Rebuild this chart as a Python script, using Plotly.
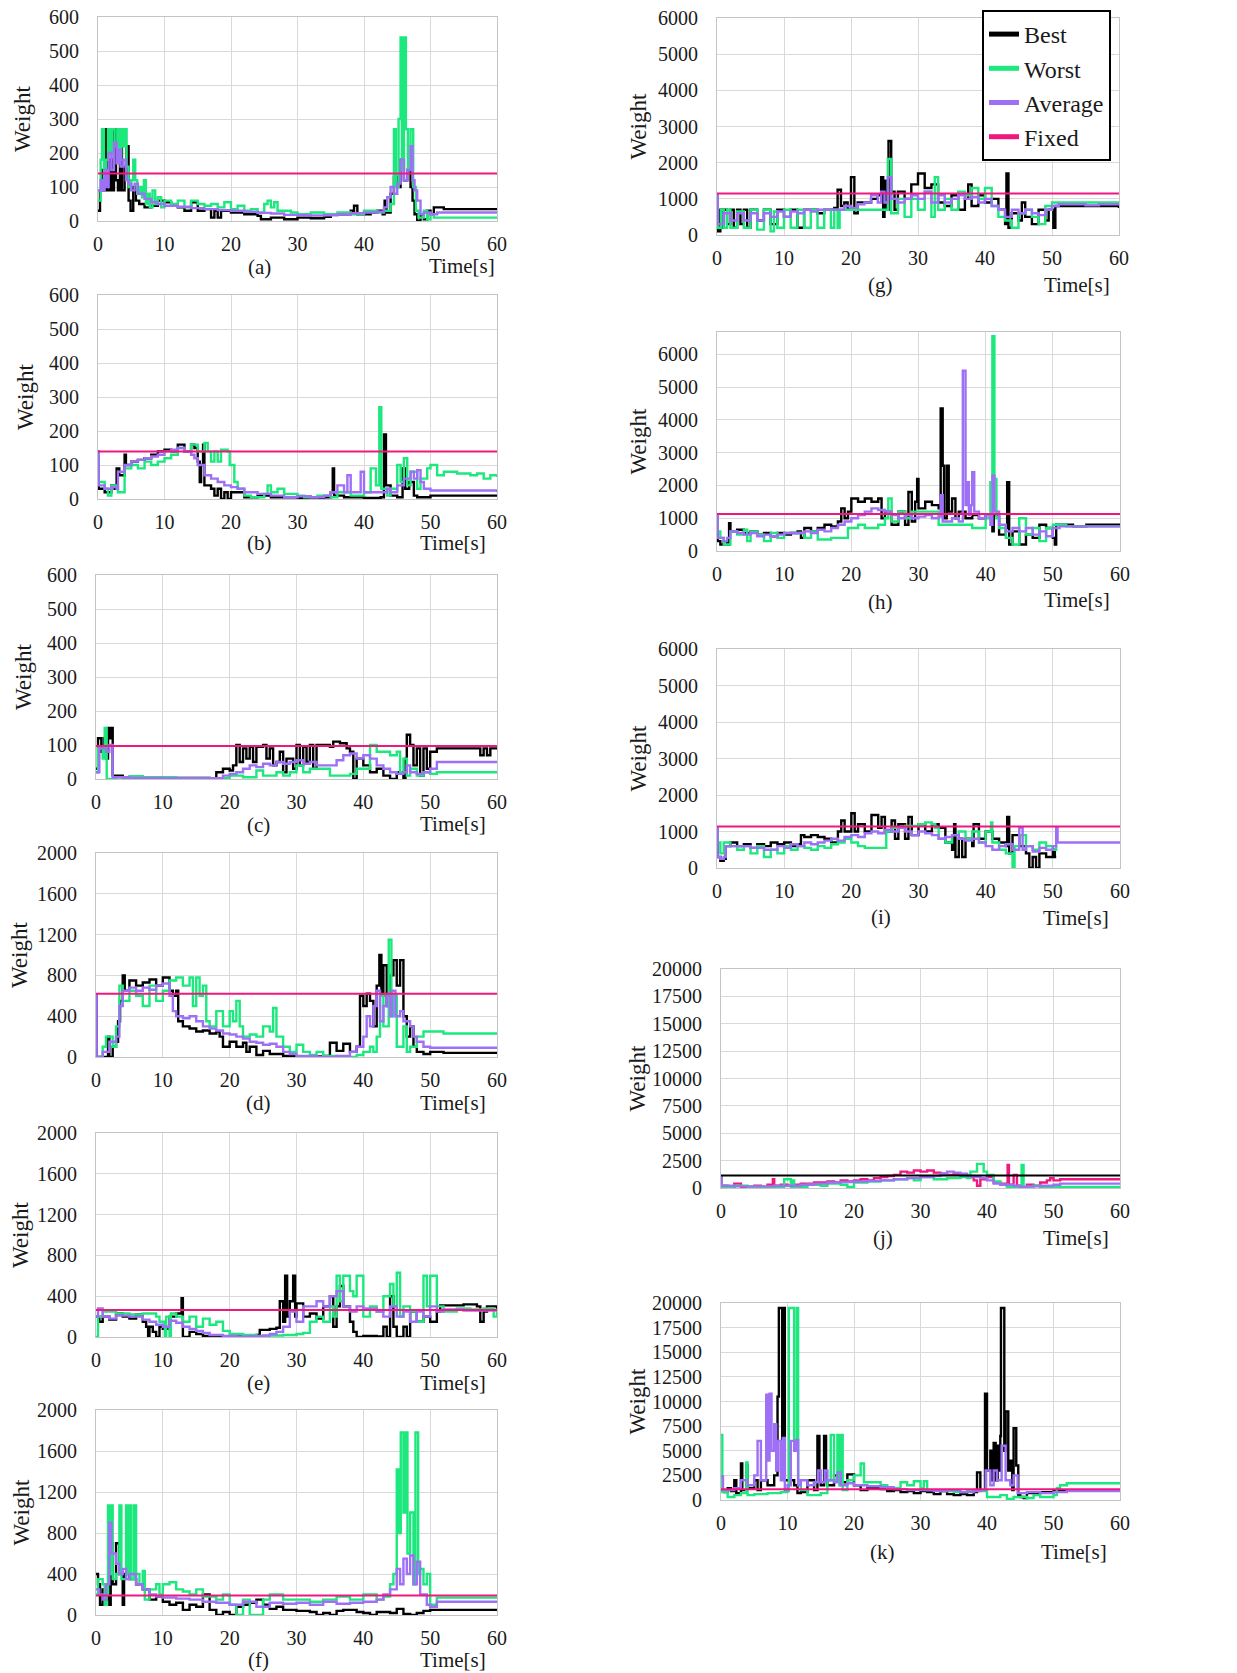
import plotly.graph_objects as go

W, H = 1237, 1673
PAGE_OFFSET = 0  # body margin removed by the post script below
FONT = "Liberation Serif"

X_TICKS = [0, 10, 20, 30, 40, 50, 60]
PANEL_LABELS = ["(a)", "(b)", "(c)", "(d)", "(e)", "(f)", "(g)", "(h)", "(i)", "(j)", "(k)"]
SERIES_NAMES = ["Best", "Worst", "Average", "Fixed"]
FIXED_WEIGHT = [140, 140, 97, 620, 265, 190, 1150, 1130, 1140, 1150, 1100]
Y_TICKS_600 = [0, 100, 200, 300, 400, 500, 600]
Y_TICKS_2000 = [0, 400, 800, 1200, 1600, 2000]
Y_TICKS_6000 = [0, 1000, 2000, 3000, 4000, 5000, 6000]
Y_TICKS_20000 = [0, 2500, 5000, 7500, 10000, 12500, 15000, 17500, 20000]

# ---------------- (a) ----------------
A_BEST = [(0,30),(0.3,90),(0.6,150),(0.9,90),(1.2,270),(1.4,90),(1.8,180),(2.1,90),(2.4,270),(2.7,120),(3.0,90),(3.3,260),(3.6,90),(4.0,160),(4.3,220),(4.6,60),(4.9,30),(5.3,100),(5.7,60),(6.2,50),(7,40),(8,45),(9,60),(10,55),(11,45),(12,40),(13,30),(14,55),(15,30),(16,35),(17,10),(17.5,30),(18,10),(18.5,30),(20,25),(22,20),(24,15),(24.5,5),(26,10),(28,5),(30,10),(32,8),(34,12),(35,20),(37,20),(38,30),(38.5,45),(39,20),(41,25),(42,30),(42.8,20),(43.1,60),(43.4,25),(44,80),(44.5,130),(45,100),(45.5,180),(46,120),(46.5,150),(47,100),(47.3,60),(47.6,20),(48,0),(48.5,20),(49,5),(49.5,30),(50,20),(50.5,40),(52,35),(60,35)]
A_WORST = [(0,60),(0.4,180),(0.6,270),(0.9,120),(1.2,180),(1.5,270),(1.8,200),(2.1,270),(2.5,220),(2.9,270),(3.2,180),(3.5,270),(3.8,220),(4.0,270),(4.3,160),(4.6,100),(5,120),(5.3,180),(5.6,120),(5.9,80),(6.3,100),(6.6,70),(6.9,120),(7.2,50),(7.5,80),(7.8,40),(8.2,90),(8.6,50),(9,70),(9.5,40),(10,60),(11,50),(12,60),(13,40),(14,60),(15,50),(16,45),(17,50),(18,40),(19,55),(20,35),(21,45),(22,30),(23,35),(24,25),(25,50),(25.5,60),(26,40),(26.5,55),(27,30),(28,30),(29,25),(30,20),(32,25),(34,20),(36,25),(38,20),(40,30),(42,25),(43,30),(44,50),(44.5,270),(44.8,100),(45.2,300),(45.5,540),(45.7,150),(46.0,540),(46.3,270),(46.6,150),(47,270),(47.4,100),(47.8,30),(48.2,10),(49,30),(49.5,5),(50,20),(50.5,10),(60,10)]
A_AVG = [(0,90),(0.4,120),(0.7,90),(1,150),(1.3,100),(1.6,200),(2,150),(2.4,230),(2.8,170),(3.1,210),(3.4,160),(3.8,180),(4.2,120),(4.6,110),(5,90),(5.5,110),(6,80),(7,65),(8,55),(9,50),(10,45),(12,42),(14,38),(16,35),(18,32),(20,30),(22,27),(24,24),(26,22),(28,18),(30,17),(32,16),(34,17),(36,20),(38,23),(40,25),(42,27),(43,40),(43.5,70),(44,100),(44.5,80),(45,110),(45.5,180),(46,120),(46.5,150),(47,220),(47.3,120),(47.6,90),(48,60),(48.5,20),(49,25),(50,20),(51,25),(60,25)]

# ---------------- (b) ----------------
B_BEST = [(0,140),(0.1,30),(1,20),(2,40),(2.5,30),(2.8,90),(3.2,70),(4,130),(4.2,100),(5,110),(6,115),(7,120),(8,130),(9,140),(10,145),(11,140),(12,160),(13,140),(14,160),(14.5,150),(15,110),(15.3,50),(15.5,100),(15.8,160),(16,40),(17,30),(17.5,10),(18,30),(18.5,0),(19,20),(19.5,0),(20,20),(22,5),(24,10),(26,5),(30,3),(34,5),(35,20),(35.3,90),(35.5,10),(37,5),(40,3),(42.5,5),(43,190),(43.3,40),(44,10),(45,5),(45.8,90),(46.2,30),(46.8,50),(47.5,10),(48,5),(50,10),(60,10)]
B_WORST = [(0,140),(0.1,50),(1,30),(1.5,10),(2,40),(3,20),(3.5,20),(4,90),(5,100),(6,90),(7,110),(8,100),(9,110),(10,120),(11,130),(12,150),(13,140),(14,160),(15,140),(16,165),(16.5,140),(17,110),(17.5,140),(18,110),(18.5,145),(19.5,140),(19.8,100),(20.5,50),(21,30),(22,10),(23,5),(25,15),(25.5,40),(26,20),(27,30),(28,15),(30,10),(31,5),(33,10),(35,5),(36,20),(38,10),(40,20),(41,90),(41.8,40),(42.3,270),(42.6,30),(43.5,10),(44,30),(45,100),(45.5,50),(46,120),(46.5,40),(47,80),(48,30),(48.5,60),(49.5,90),(50,100),(51,70),(52,80),(54,75),(56,70),(57,75),(58,60),(59,70),(60,65)]
B_AVG = [(0,140),(0.1,40),(1,30),(2,35),(2.8,30),(3,80),(4,100),(5,110),(6,115),(7,120),(8,125),(9,130),(10,140),(11,145),(12,150),(13,140),(14,130),(14.5,120),(15,100),(16,70),(17,60),(18,50),(19,40),(20,35),(21,30),(22,20),(24,15),(26,10),(28,5),(30,8),(32,5),(34,10),(35,20),(36,40),(37,20),(37.5,70),(38,20),(39.5,80),(40,20),(42,20),(43.5,30),(44,20),(45,40),(46,60),(47,80),(47.5,60),(48,85),(48.5,50),(49,30),(50,25),(55,25),(60,20)]

# ---------------- (c) ----------------
C_BEST = [(0,30),(0.3,120),(0.8,80),(1.2,120),(1.5,60),(1.8,150),(2.1,120),(2.3,150),(2.5,10),(4,5),(10,3),(17,2),(18,20),(19,30),(20,25),(20.5,40),(21,100),(21.5,50),(22,90),(22.5,60),(23,95),(23.5,50),(24,95),(25,100),(25.5,60),(26,90),(26.5,40),(27,50),(27.5,80),(28,20),(28.5,60),(29.5,30),(30,100),(30.5,40),(31,95),(31.5,50),(32,100),(32.5,30),(33,100),(35,95),(35.5,110),(36.5,105),(37.5,90),(38,80),(38.5,0),(39,60),(40,40),(41,20),(42,30),(43,10),(44,0),(45,20),(46,0),(46.3,60),(46.5,130),(47,100),(47.5,40),(48,90),(48.5,10),(49,90),(49.5,30),(50,80),(51,90),(57,90),(57.5,70),(58,90),(58.5,70),(59,90),(60,90)]
C_WORST = [(0,20),(0.3,90),(1,60),(1.3,150),(1.6,0),(3,5),(5,8),(7,5),(10,5),(12,3),(17,2),(20,10),(22,5),(24,25),(25,10),(27,20),(28,10),(29,20),(30,40),(31,20),(32,30),(35,10),(38,15),(39,30),(41,100),(42,80),(44,70),(45,80),(45.5,20),(46,60),(46.5,10),(47,30),(48,10),(49,20),(50,15),(51,20),(60,20)]
C_AVG = [(0,20),(0.5,90),(1.5,80),(2,100),(2.5,5),(5,3),(10,2),(17,2),(19,10),(20,15),(21,20),(22,30),(23,40),(24,35),(25,45),(26,40),(27,50),(28,45),(29,50),(30,55),(31,45),(32,50),(33,40),(35,40),(36,55),(37,70),(38,75),(39,60),(40,70),(41,60),(42,40),(43,30),(44,20),(45,15),(46,20),(46.5,40),(47,20),(48,15),(49,20),(50,30),(51,50),(60,50)]

# ---------------- (d) ----------------
D_BEST = [(0,600),(0.1,0),(1.5,0),(1.8,200),(2,0),(2.5,100),(3,150),(3.3,350),(3.6,550),(4,800),(4.3,650),(5,750),(6,700),(7,730),(8,760),(9,700),(10,780),(11,650),(11.5,600),(12,650),(12.3,350),(13,300),(14,280),(15,250),(16,260),(17,230),(18,250),(18.5,200),(19,100),(20,150),(21,100),(22,140),(22.5,50),(23,100),(24,20),(25,60),(26,30),(28,10),(30,0),(33,5),(34,10),(35,140),(36,60),(37,130),(38,50),(39,100),(39.5,600),(40,500),(40.5,620),(41,550),(41.5,300),(42,700),(42.4,1000),(42.7,600),(43,900),(43.5,500),(44,800),(44.5,950),(45,700),(45.5,950),(46,400),(46.5,200),(47,300),(47.5,100),(48,50),(49,30),(50,50),(52,40),(60,40)]
D_WORST = [(0,0),(1,100),(1.5,200),(2.5,100),(3,300),(3.5,700),(4,550),(5,650),(6,600),(7,500),(8,700),(9,550),(10,650),(11,750),(12,780),(13,700),(14,780),(14.5,500),(15,780),(15.5,600),(16,700),(16.5,350),(17,300),(18,450),(19,300),(20,450),(20.5,350),(21,550),(21.5,300),(22,200),(23,220),(24,200),(25,300),(26,250),(26.5,480),(27,200),(28,100),(29,50),(30,120),(31,50),(32,20),(33,50),(34,10),(36,0),(38,0),(39,20),(40,50),(41,100),(41.5,50),(42,200),(42.5,600),(43,300),(43.8,1150),(44.2,400),(44.5,600),(45,100),(46,300),(46.5,50),(47,100),(48,200),(49,250),(52,230),(60,230)]
D_AVG = [(0,600),(0.1,0),(1,50),(2,150),(3,200),(3.5,500),(4,650),(5,680),(6,650),(7,680),(8,660),(9,700),(10,720),(11,600),(11.5,450),(12,400),(13,380),(14,400),(15,350),(16,300),(17,280),(18,260),(19,230),(20,220),(21,200),(22,180),(23,150),(24,140),(25,120),(26,130),(27,100),(28,50),(29,30),(30,10),(33,0),(36,10),(38,50),(39,100),(40,200),(40.5,400),(41,300),(41.5,500),(42,650),(42.5,350),(43,500),(43.5,600),(44,400),(44.3,650),(44.8,400),(45.5,450),(46,350),(47,300),(47.5,200),(48,150),(49,100),(50,90),(60,90)]

# ---------------- (e) ----------------
E_BEST = [(0,200),(0.5,150),(1,200),(2,170),(3,230),(4,200),(5,180),(6,220),(7,150),(7.5,100),(7.8,0),(8,100),(8.5,50),(9,0),(9.5,100),(10,80),(11,200),(12,230),(12.8,380),(13,0),(14,50),(15,30),(16,10),(18,5),(20,10),(22,10),(24,20),(24.5,70),(26,80),(27,90),(27.5,350),(28,150),(28.3,600),(28.6,200),(29,350),(29.5,600),(29.8,200),(30,330),(31,200),(32,230),(33,180),(34,300),(35,400),(35.5,100),(36,300),(36.5,500),(37,300),(38,150),(38.5,50),(39,0),(40,10),(42,5),(43,100),(43.5,0),(44,400),(44.5,100),(45,0),(46,100),(46.5,0),(47,250),(48,150),(49,200),(50,150),(51,250),(51.5,310),(55,320),(57,300),(57.5,150),(58,250),(58.5,300),(60,270)]
E_WORST = [(0,0),(0.3,200),(1,250),(3,230),(5,220),(7,230),(9,200),(9.5,150),(10.3,0),(10.5,200),(11,0),(11.2,230),(12,200),(13,150),(14,200),(15,100),(16,180),(17,120),(18,150),(19,60),(20,30),(22,20),(24,10),(26,15),(28,20),(30,30),(31,40),(32,150),(33,200),(34,150),(35,300),(35.5,200),(36,600),(36.5,350),(37,600),(38,450),(38.5,400),(39,600),(40,200),(41,300),(42,250),(43,400),(44,520),(44.5,300),(45,630),(45.5,200),(46,300),(47,250),(48,150),(49,600),(49.5,300),(50,600),(51,300),(52,250),(54,280),(56,270),(58,280),(59.5,200),(60,280)]
E_AVG = [(0,200),(0.3,280),(1,200),(2,180),(3,210),(5,200),(7,170),(8,150),(9,120),(10,100),(11,160),(12,140),(13,100),(14,80),(15,60),(16,40),(17,20),(19,10),(21,5),(23,8),(25,15),(26,30),(27,50),(28,100),(29,250),(30,150),(31,300),(33,350),(34,300),(35,400),(36,450),(37,300),(38,250),(39,300),(40,280),(42,250),(43,200),(44,300),(45,200),(46,250),(47,150),(48,250),(49,200),(50,300),(51,250),(52,270),(55,260),(60,270)]

# ---------------- (f) ----------------
F_BEST = [(0,400),(0.3,300),(0.6,100),(1,250),(1.5,150),(1.8,300),(2.0,100),(2.2,700),(2.5,300),(3,700),(3.5,400),(4,100),(4.2,400),(5,350),(6,300),(7,250),(8,150),(9,180),(10,130),(11,100),(12,120),(13,50),(14,100),(15,80),(16,200),(17,50),(18,0),(19,30),(20,0),(21,80),(22,100),(23,120),(24,150),(25,100),(26,60),(27,80),(28,50),(30,40),(32,30),(33,0),(34,20),(35,0),(36,40),(37,50),(39,30),(40,20),(41,0),(42,30),(44,20),(45,60),(46,10),(47,0),(48,20),(49,40),(50,50),(60,50)]
F_WORST = [(0,200),(0.3,350),(1,300),(1.3,100),(1.6,200),(1.8,1070),(2.0,400),(2.2,1070),(2.5,350),(3,400),(3.5,1070),(3.8,350),(4.5,1070),(4.8,400),(5,1070),(5.3,350),(5.7,1070),(6,400),(6.5,300),(7,430),(7.3,150),(8,250),(9,300),(9.5,200),(10,300),(11,320),(12,250),(13,230),(14,200),(15,250),(16,180),(18,150),(19,200),(20,100),(21,0),(22,150),(23,0),(24.5,0),(25,150),(26,200),(28,150),(30,150),(32,130),(34,150),(36,180),(38,150),(40,200),(42,150),(43,180),(44,300),(44.5,400),(45,1420),(45.3,800),(45.6,1780),(46,1000),(46.3,1780),(46.6,600),(47,1000),(47.5,300),(47.8,1780),(48.2,400),(48.5,450),(49,300),(49.5,400),(50,100),(51,170),(60,170)]
F_AVG = [(0,250),(0.5,200),(1,150),(1.5,300),(2,900),(2.3,600),(3,500),(3.5,400),(4,450),(4.5,350),(5,400),(6,300),(7,250),(8,200),(9,180),(10,170),(12,160),(14,150),(16,130),(18,120),(20,100),(22,130),(24,80),(26,120),(28,110),(30,120),(32,100),(34,130),(36,110),(38,120),(40,130),(42,150),(43,200),(44,250),(45,450),(45.5,300),(46,550),(46.5,400),(47,580),(47.5,300),(48,520),(48.5,200),(49.5,100),(50,80),(51,130),(60,130)]

# ---------------- (g) ----------------
G_BEST = [(0,1100),(0.1,100),(0.5,700),(0.8,200),(1,700),(1.5,300),(2,700),(2.5,200),(3,700),(3.5,300),(4,700),(4.5,200),(5,700),(6,400),(7,700),(8,300),(9,700),(10,500),(11,700),(12,200),(13,700),(15,600),(16,700),(17,700),(17.5,750),(18,1250),(18.5,800),(19,900),(19.5,700),(20,1600),(20.5,600),(21,900),(22,900),(23,1000),(24,1100),(24.5,1600),(24.8,500),(25,1500),(25.3,700),(25.6,2600),(26,1200),(26.5,700),(27,1200),(28,1000),(29,1400),(30,1700),(31,1300),(32,1400),(33,900),(34,800),(35,1100),(36,700),(37,1000),(37.5,1400),(38,800),(39,1100),(40,900),(41,1000),(42,700),(43,300),(43.2,1700),(43.5,200),(44,600),(45,400),(45.5,900),(46,500),(47,300),(48,700),(49,400),(49.5,700),(50.2,200),(50.5,800),(51,800),(60,750)]
G_WORST = [(0,1100),(0.1,200),(0.6,700),(1,200),(1.5,700),(2,200),(3,650),(4,200),(5,700),(6,150),(7,700),(8,100),(8.5,650),(9,200),(10,700),(11,200),(12,700),(13,200),(14,700),(15,200),(16,700),(17,200),(17.5,700),(18,200),(18.3,700),(25,700),(25.5,2100),(26,600),(27,1000),(28,500),(29,1000),(30,700),(31,1200),(32,500),(32.5,1600),(33,700),(34,1000),(35,700),(36,1200),(37,1100),(38,1300),(39,1000),(40,1300),(41,800),(42,500),(43,400),(44,200),(45,600),(46,700),(47,500),(48,300),(49,800),(50,900),(52,900),(60,900)]
G_AVG = [(0,1100),(0.1,300),(1,600),(2,400),(3,600),(4,400),(5,600),(6,400),(7,600),(8,500),(9,650),(10,500),(11,650),(12,600),(13,700),(14,650),(15,700),(18,700),(19,800),(20,750),(21,850),(22,900),(23,1100),(24,900),(24.5,1200),(25,900),(25.5,1600),(26,1000),(27,900),(28,1000),(29,1100),(30,1000),(31,1200),(32,900),(33,1100),(34,900),(35,1000),(36,1100),(37,1000),(38,1050),(39,900),(40,1000),(41,800),(42,700),(43,500),(44,700),(45,600),(46,700),(47,600),(48,550),(49,700),(50,800),(51,850),(55,820),(57,850),(60,820)]

# ---------------- (h) ----------------
H_BEST = [(0,1100),(0.1,300),(0.5,200),(1,300),(1.5,200),(1.8,850),(2,600),(3,650),(4,550),(5,600),(6,500),(7,550),(8,450),(9,550),(10,500),(11,550),(12,600),(12.5,400),(13,700),(14,600),(15,700),(16,800),(17,750),(18,900),(18.5,1300),(19,1000),(19.5,1200),(20,1600),(21,1500),(22,1600),(23,1500),(24,1600),(24.5,1000),(25,1200),(26,800),(27,1200),(28,800),(28.5,1800),(29,900),(29.5,1500),(29.8,2200),(30,1300),(31,1500),(32,1400),(33,1300),(33.3,4350),(33.6,2600),(33.8,1000),(34.2,2600),(34.5,1200),(35,1600),(35.5,1000),(36,1200),(37,1000),(38,1100),(39,1000),(40,1100),(41,600),(41.2,1100),(42,500),(43,700),(43.2,2100),(43.5,200),(44,600),(45,200),(46,500),(47,400),(48,800),(49,700),(50,400),(50.3,200),(50.5,800),(53,750),(55,800),(60,800)]
H_WORST = [(0,1100),(0.1,600),(0.5,400),(1,200),(2,600),(3,500),(4,650),(4.5,300),(5,600),(6,500),(7,300),(8,550),(9,400),(10,550),(12,550),(13,400),(14,600),(15,350),(17,400),(19,400),(19.5,700),(20.5,700),(21,800),(22,700),(24,800),(25,1000),(25.5,1600),(26,900),(27,1200),(28,1000),(29,1200),(32,1200),(33,800),(36,800),(38,700),(40,1000),(40.7,2100),(41,6550),(41.3,2200),(41.6,1000),(42,700),(43,400),(44,200),(45,1000),(46,500),(47,700),(48,300),(49,700),(50,800),(52,750),(60,750)]
H_AVG = [(0,1100),(0.1,400),(1,300),(1.5,400),(2,600),(3,550),(4,500),(5,550),(6,450),(7,500),(8,450),(9,500),(10,550),(12,550),(13,600),(14,550),(15,650),(16,600),(17,700),(18,800),(19,900),(20,1000),(21,1100),(22,1200),(23,1300),(24,1250),(25,1200),(26,1100),(27,1000),(28,1100),(29,1000),(30,1050),(31,1100),(32,1000),(33,1050),(33.3,1700),(33.6,900),(35,1000),(36,900),(36.6,5500),(37,1400),(37.2,2100),(37.5,1100),(37.8,1400),(38,2400),(38.3,1200),(39,1000),(40,1100),(40.7,800),(41,2300),(41.3,1200),(42,800),(43,600),(44,700),(45,600),(46,700),(47,500),(48,600),(49,450),(50,700),(51,750),(60,750)]

# ---------------- (i) ----------------
I_BEST = [(0,1100),(0.1,300),(0.5,200),(1,250),(1.3,600),(2,700),(3,600),(4,650),(5,550),(6,650),(7,600),(8,700),(9,650),(10,700),(11,600),(12,650),(12.5,900),(13,850),(14,900),(15,850),(16,800),(17,700),(18,1000),(18.5,1300),(19,1000),(20,1500),(20.5,1000),(21,1200),(22,1000),(23,1450),(24,1100),(24.5,1400),(25,1000),(26,1300),(26.5,800),(27,1200),(28,800),(28.5,1400),(29,900),(30,1200),(31,1000),(32,1200),(33,1100),(34,700),(35,500),(35.3,1200),(35.5,300),(36,800),(36.5,300),(37,800),(38,600),(38.2,1200),(39,800),(40,1000),(41,800),(42,700),(43,600),(43.2,1400),(43.5,400),(44,900),(45,600),(46,400),(46.5,0),(47,300),(47.5,0),(48,400),(49,300),(50,500),(50.3,300),(50.5,300)]
I_WORST = [(0,1100),(0.1,700),(0.5,400),(1,700),(2,600),(3,500),(4,600),(5,400),(6,600),(7,300),(8,500),(9,400),(10,600),(11,500),(12,600),(13,550),(14,500),(15,600),(16,550),(17,650),(18,700),(19,800),(20,700),(21,600),(22,550),(25,550),(25.2,1000),(26,1100),(28,1150),(30,1200),(31,1250),(32,1200),(32.5,1100),(33,800),(34,700),(35,900),(36,1000),(37,800),(38,1000),(39,700),(40,1000),(40.8,1250),(41,700),(42,500),(43,400),(44,0),(44.3,600),(45,900),(46,600),(47,500),(48,700),(49,600),(50,500),(50.5,600)]
I_AVG = [(0,1100),(0.1,300),(0.5,250),(1,300),(1.3,600),(3,600),(5,550),(7,500),(9,600),(10,550),(11,650),(12,600),(13,700),(14,650),(15,700),(16,750),(17,800),(18,750),(19,850),(20,900),(21,850),(22,950),(23,1000),(24,950),(25,1050),(26,1000),(27,1100),(28,1000),(29,900),(30,1000),(31,950),(32,900),(33,800),(34,850),(35,900),(36,800),(37,750),(38,800),(39,700),(40,600),(41,500),(42,600),(43,650),(44,500),(45,1100),(45.5,500),(46,600),(47,450),(48,550),(49,500),(50,600),(50.5,1100),(50.7,700),(60,700)]

# ---------------- (j) ----------------
J_BEST = [(0,1000),(0.1,200),(1,100),(2,400),(3,100),(5,200),(6,100),(7,300),(7.8,800),(8,200),(9,300),(10,200),(11,300),(12,400),(14,500),(16,600),(17,500),(18,700),(19,600),(20,700),(21,800),(22,700),(23,900),(24,1000),(25,1100),(26,1200),(27,1500),(28,1400),(29,1600),(30,1500),(31,1600),(32,1400),(33,1300),(34,1200),(35,1300),(36,1200),(37,1000),(38,700),(38.5,200),(39,800),(40,1000),(41,500),(42,400),(43,200),(43.1,2100),(43.3,300),(44,1200),(44.5,200),(45,100),(46,300),(47,200),(48,500),(49,700),(49.5,900),(50,700),(51,800),(60,800)]
J_WORST = [(0,1000),(0.1,100),(2,200),(4,100),(9,100),(9.5,800),(10.5,100),(10.8,700),(11,100),(13,300),(15,200),(16,400),(18,300),(19,100),(20,500),(22,600),(24,700),(26,800),(28,900),(29,700),(30,1000),(32,800),(34,900),(36,1000),(37,900),(37.5,1500),(38.5,2200),(39.5,1500),(40,1200),(41,600),(42,300),(43,100),(44,50),(45,100),(45.2,2100),(45.5,100),(47,200),(48,100),(60,100)]
J_AVG = [(0,1000),(0.1,200),(2,150),(5,150),(8,200),(10,200),(12,300),(14,400),(16,500),(18,550),(20,600),(22,650),(24,700),(26,800),(28,900),(30,1000),(32,1100),(33,1300),(34,1500),(35,1400),(36,1300),(37,1100),(38,1000),(39,900),(40,700),(41,400),(42,300),(44,200),(45,100),(46,150),(48,200),(50,300),(51,400),(60,400)]

# ---------------- (k) ----------------
K_BEST = [(0,1000),(0.5,800),(1,1200),(1.5,900),(2,2000),(2.3,700),(3,3700),(3.2,1000),(3.8,3500),(4,1200),(5,2000),(5.5,1000),(6,2000),(7,1500),(8,2500),(8.5,10500),(8.7,19500),(9.2,6200),(9.4,19500),(9.6,2000),(10,2000),(11,1500),(11.5,700),(12,800),(13,2000),(14,1000),(14.5,6500),(14.8,2000),(15,1500),(15.5,6500),(15.8,2000),(16,1500),(17,2500),(18,1800),(19,2600),(20,1500),(21,1000),(22,1200),(24,1100),(25,900),(26,1000),(27,800),(28,900),(29,700),(30,900),(31,800),(32,600),(33,900),(34,600),(35,500),(36,600),(37,500),(38,800),(38.5,2800),(39,1000),(39.7,10800),(40,3000),(40.5,5000),(40.8,2000),(41,5800),(41.3,2000),(41.6,5500),(41.8,3000),(42,6500),(42.1,19500),(42.6,5000),(42.8,9000),(43.2,3000),(43.5,4000),(43.8,1000),(44,7300),(44.4,3500),(44.7,500),(45,300),(45.5,200),(46,700),(48,800),(50,900),(52,1000),(60,1000)]
K_WORST = [(0,6600),(0.2,800),(1,300),(2,500),(3,700),(3.8,3800),(4,500),(5,600),(7,700),(9,800),(10,900),(10.2,19500),(11,6000),(11.4,19500),(11.6,2000),(12,1000),(13,500),(15,700),(16,2000),(16.5,6600),(17,2000),(17.5,6600),(17.8,1500),(18,6600),(18.3,1000),(19,2000),(20,2500),(21,3700),(21.5,1800),(23,1800),(24,1500),(25,1200),(27,1800),(28,1500),(29,1900),(30,1200),(30.5,1900),(31,1000),(33,900),(35,800),(37,1000),(39,900),(40,300),(42,500),(43,100),(44,300),(46,200),(47,500),(48,300),(50,500),(50.5,1200),(51,1500),(52,1700),(60,1700)]
K_AVG = [(0,2400),(0.3,1000),(2,1200),(3,2000),(4,1500),(5,2500),(5.5,6000),(6,2000),(6.8,10700),(7,4000),(7.3,10800),(7.6,5000),(8,7700),(8.3,3000),(8.6,6000),(9,2000),(9.3,6300),(9.6,1000),(10,1500),(10.5,6000),(11,5000),(11.3,6100),(11.6,1500),(12,2000),(13,1500),(14,1800),(14.6,3000),(15,1800),(15.6,3000),(16,2000),(17,1800),(17.5,2800),(18,1500),(19,1700),(20,1500),(22,1400),(24,1300),(26,1100),(28,1000),(30,1000),(32,900),(34,1000),(36,800),(38,900),(39,1000),(39.8,3000),(40.5,1500),(41,3000),(41.5,2000),(42.2,5500),(42.8,2000),(43.5,1500),(44,2500),(44.6,700),(46,800),(48,700),(50,800),(52,900),(60,900)]

BEST = [A_BEST, B_BEST, C_BEST, D_BEST, E_BEST, F_BEST, G_BEST, H_BEST, I_BEST, J_BEST, K_BEST]
WORST = [A_WORST, B_WORST, C_WORST, D_WORST, E_WORST, F_WORST, G_WORST, H_WORST, I_WORST, J_WORST, K_WORST]
AVERAGE = [A_AVG, B_AVG, C_AVG, D_AVG, E_AVG, F_AVG, G_AVG, H_AVG, I_AVG, J_AVG, K_AVG]

# ---------------- layout geometry (window pixels) ----------------
# (left, right, top, bottom, ymax, y ticks, weight-label x, label offset, time offset, time right shift)
GEOM = [
    (98, 497, 17, 221, 600, Y_TICKS_600, 22, 46, 45, 0),
    (98, 497, 295, 499, 600, Y_TICKS_600, 25, 44, 44, -9),
    (96, 497, 575, 779, 600, Y_TICKS_600, 23, 46, 45, -9),
    (96, 497, 853, 1057, 2000, Y_TICKS_2000, 20, 46, 46, -9),
    (96, 497, 1133, 1337, 2000, Y_TICKS_2000, 20, 46, 46, -9),
    (96, 497, 1410, 1615, 2000, Y_TICKS_2000, 21, 45, 45, -9),
    (717, 1119, 18, 235, 6000, Y_TICKS_6000, 638, 50, 50, -7),
    (717, 1120, 332, 551, 6680, Y_TICKS_6000, 638, 51, 49, -8),
    (717, 1120, 649, 868, 6000, Y_TICKS_6000, 638, 49, 50, -9),
    (721, 1120, 969, 1188, 20000, Y_TICKS_20000, 637, 50, 50, -9),
    (721, 1120, 1303, 1500, 20000, Y_TICKS_20000, 637, 52, 52, -11),
]

C_BEST_COL = "#000000"
C_WORST_COL = "#1de87d"
C_AVG_COL = "#9d70f5"
C_FIXED_COL = "#f0177f"
TXT = "#1a1a1a"

def px(x):
    return (x - PAGE_OFFSET) / W

def py(y):
    return 1 - (y - PAGE_OFFSET) / H

def split(pairs):
    return [p[0] for p in pairs], [p[1] for p in pairs]

fig = go.Figure()
layout = dict(
    width=W, height=H, margin=dict(l=0, r=0, t=0, b=0, pad=0, autoexpand=False),
    paper_bgcolor="white", plot_bgcolor="white",
    font=dict(family=FONT, size=20, color=TXT),
    showlegend=True,
)
annotations = []

for i, g in enumerate(GEOM):
    left, right, top, bottom, ymax, yticks, wx, loff, toff, tshift = g
    n = i + 1
    xname = "x" if n == 1 else f"x{n}"
    yname = "y" if n == 1 else f"y{n}"
    ax_common = dict(showgrid=True, gridcolor="#d9d9d9", gridwidth=1,
                     showline=True, linecolor="#c4c4c4", linewidth=1, mirror=True,
                     zeroline=False, ticks="outside", tickcolor="rgba(0,0,0,0)",
                     automargin=False, ticklabeloverflow="allow",
                     tickfont=dict(family=FONT, size=20, color=TXT))
    layout["xaxis" if n == 1 else f"xaxis{n}"] = dict(
        ax_common, domain=[px(left), px(right)], range=[0, 60], tickvals=X_TICKS,
        ticktext=[str(v) for v in X_TICKS], ticklen=5, anchor=yname)
    layout["yaxis" if n == 1 else f"yaxis{n}"] = dict(
        ax_common, domain=[py(bottom), py(top)], range=[0, ymax], tickvals=yticks,
        ticktext=[str(v) for v in yticks], ticklen=14, anchor=xname)

    best_col, fixed_col = C_BEST_COL, C_FIXED_COL
    if PANEL_LABELS[i] == "(j)":
        best_col, fixed_col = C_FIXED_COL, C_BEST_COL

    for pairs, col, name in [(BEST[i], best_col, "Best"), (WORST[i], C_WORST_COL, "Worst"),
                             (AVERAGE[i], C_AVG_COL, "Average")]:
        t, v = split(pairs)
        fig.add_trace(go.Scatter(x=t, y=v, mode="lines", line=dict(color=col, width=2.4, shape="hv"),
                                 name=name, showlegend=False, xaxis=xname, yaxis=yname))
    fig.add_trace(go.Scatter(x=[0, 60], y=[FIXED_WEIGHT[i], FIXED_WEIGHT[i]], mode="lines",
                             line=dict(color=fixed_col, width=2), name="Fixed",
                             showlegend=False, xaxis=xname, yaxis=yname))

    cx = (left + right) / 2 - 38
    annotations.append(dict(text=PANEL_LABELS[i], x=px(cx), y=py(bottom + loff), xref="paper", yref="paper",
                            xanchor="center", yanchor="middle", showarrow=False,
                            font=dict(family=FONT, size=21, color=TXT)))
    annotations.append(dict(text="Time[s]", x=px(right + tshift), y=py(bottom + toff), xref="paper", yref="paper",
                            xanchor="right", yanchor="middle", showarrow=False,
                            font=dict(family=FONT, size=21, color=TXT)))
    annotations.append(dict(text="Weight", x=px(wx), y=py((top + bottom) / 2), xref="paper", yref="paper",
                            xanchor="center", yanchor="middle", textangle=-90, showarrow=False,
                            font=dict(family=FONT, size=23, color=TXT)))

# legend-only entries (thick samples like the reference legend)
for name, col in zip(SERIES_NAMES, [C_BEST_COL, C_WORST_COL, C_AVG_COL, C_FIXED_COL]):
    fig.add_trace(go.Scatter(x=[None], y=[None], mode="lines", line=dict(color=col, width=5),
                             name=name, showlegend=True, xaxis="x7", yaxis="y7"))

layout["legend"] = dict(x=px(982), y=py(10), xanchor="left", yanchor="top",
                        bgcolor="white", bordercolor="black", borderwidth=2,
                        font=dict(family=FONT, size=24, color=TXT),
                        itemwidth=30, tracegroupgap=0)
layout["annotations"] = annotations
fig.update_layout(**layout)
fig.write_html("out.html", config={"displayModeBar": False},
               post_script="document.body.style.margin='0px';")
